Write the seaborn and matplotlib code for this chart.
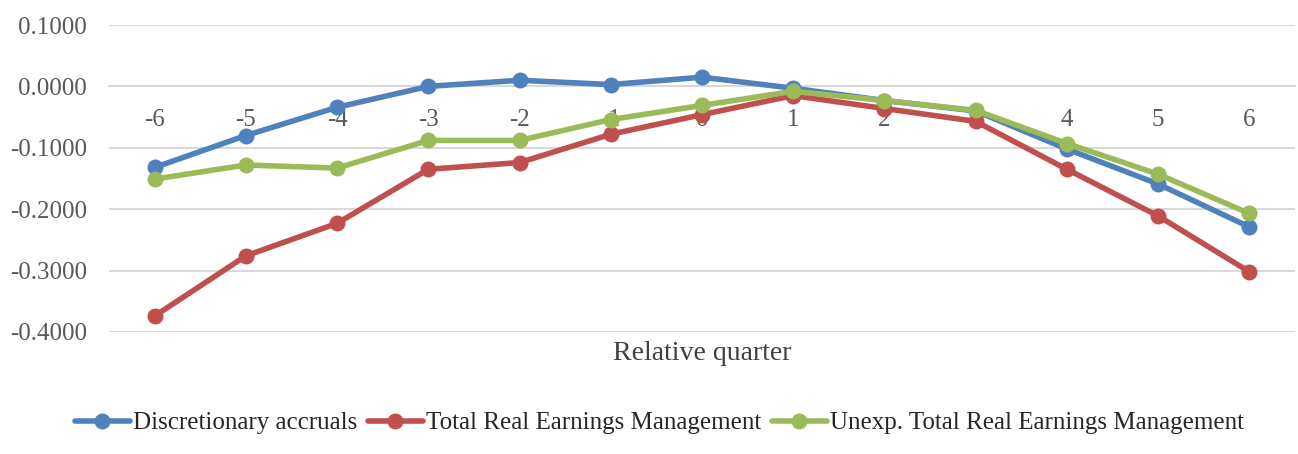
import pandas as pd
import matplotlib
matplotlib.use('Agg')
import matplotlib.pyplot as plt
import seaborn as sns

# values
quarters = [-6, -5, -4, -3, -2, -1, 0, 1, 2, 3, 4, 5, 6]
disc_accruals = [-0.132, -0.080, -0.034, 0.000, 0.010, 0.003, 0.015, -0.003, -0.023, -0.040, -0.102, -0.159, -0.229]
total_rem = [-0.374, -0.276, -0.223, -0.135, -0.124, -0.078, -0.046, -0.015, -0.036, -0.057, -0.135, -0.211, -0.302]
unexp_total_rem = [-0.151, -0.128, -0.133, -0.088, -0.088, -0.054, -0.031, -0.008, -0.023, -0.039, -0.093, -0.143, -0.207]
series_names = ['Discretionary accruals', 'Total Real Earnings Management',
                'Unexp. Total Real Earnings Management']
colors = ['#4F81BD', '#C0504D', '#9BBB59']

df = pd.DataFrame({
    'quarter': quarters * 3,
    'value': disc_accruals + total_rem + unexp_total_rem,
    'series': [s for s in series_names for _ in quarters],
})

sns.set_style('white')
plt.rcParams['font.family'] = ['Liberation Serif', 'DejaVu Serif']

fig = plt.figure(figsize=(12.98, 4.54), dpi=100)
ax = fig.add_axes([109 / 1298, 1 - 332 / 454, (1295 - 109) / 1298, (332 - 25) / 454])

sns.lineplot(data=df, x='quarter', y='value', hue='series', palette=colors,
             hue_order=series_names, marker='o', markersize=11.5, linewidth=4,
             markeredgewidth=0, ax=ax, legend=True)

ax.set_xlim(-6.5, 6.5)
ax.set_ylim(-0.4, 0.1)
ax.set_yticks([-0.4, -0.3, -0.2, -0.1, 0.0, 0.1])
ax.set_yticklabels([f'{v:.4f}' for v in [-0.4, -0.3, -0.2, -0.1, 0.0, 0.1]])
ax.set_xticks(quarters)
ax.set_xticklabels([str(q) for q in quarters])
ax.yaxis.grid(True, color='#D9D9D9', linewidth=1.5)
ax.set_axisbelow(True)

for side in ['top', 'right', 'left']:
    ax.spines[side].set_visible(False)
ax.spines['bottom'].set_position(('data', 0))
ax.spines['bottom'].set_color('#D9D9D9')
ax.spines['bottom'].set_linewidth(1.5)
ax.spines['bottom'].set_zorder(0)

ax.tick_params(axis='y', length=0, pad=16, labelsize=18, labelcolor='#595959')
ax.tick_params(axis='x', length=0, pad=16, labelsize=18, labelcolor='#595959')

ax.set_ylabel('')
ax.set_xlabel('Relative quarter', fontsize=20, color='#404040')
ax.xaxis.set_label_coords(0.5, -0.03)

handles, labels = ax.get_legend_handles_labels()
ax.get_legend().remove()
fig.legend(handles, labels, loc='center', bbox_to_anchor=(0.508, 0.068), ncol=3,
           frameon=False, fontsize=18, handlelength=2.2, handletextpad=0.15,
           columnspacing=0.4, labelcolor='#262626')

fig.savefig('out.png', dpi=100)
